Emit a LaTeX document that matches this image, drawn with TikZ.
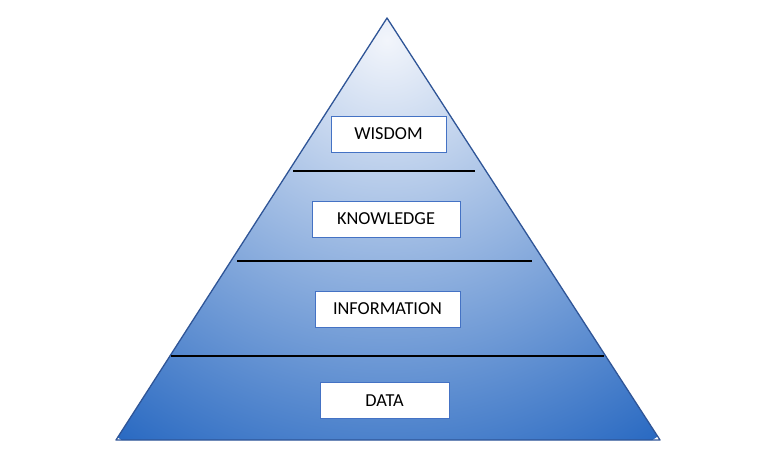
\documentclass[tikz,border=0pt]{standalone}
\usepackage{fontspec}
\setmainfont{Carlito}
\definecolor{edgeblue}{HTML}{2F5597}
\definecolor{boxblue}{HTML}{4472C4}
\definecolor{topblue}{HTML}{F2F5FB}
\definecolor{botblue}{HTML}{2A6AC2}
\tikzset{
  label box/.style={draw=boxblue, line width=1pt, fill=white, minimum height=36pt, inner sep=0pt, font=\fontsize{18.3}{20}\selectfont},
  level line/.style={draw=black, line width=1.3pt}
}
\begin{document}
\begin{tikzpicture}[x=1pt,y=-1pt]
\useasboundingbox (0,0) rectangle (775,471);
\coordinate (apex) at (387,18);
\coordinate (bl) at (116,440);
\coordinate (br) at (660,440);
\begin{scope}
  \clip (apex) -- (br) -- (bl) -- cycle;
  \shade[inner color=topblue, outer color=botblue] (387,40) circle (480);
\end{scope}
\draw[edgeblue, line width=1.3pt, line join=round] (apex) -- (br) -- (bl) -- cycle;
\coordinate (l1a) at (293,171); \coordinate (l1b) at (475,171);
\coordinate (l2a) at (237,261); \coordinate (l2b) at (532,261);
\coordinate (l3a) at (171,356); \coordinate (l3b) at (604,356);
\draw[level line] (l1a) -- (l1b);
\draw[level line] (l2a) -- (l2b);
\draw[level line] (l3a) -- (l3b);
\node[label box, minimum width=115pt] (wisdom) at (388.5,134) {WISDOM};
\node[label box, minimum width=148pt] (knowledge) at (386,219) {KNOWLEDGE};
\node[label box, minimum width=145pt] (information) at (387.5,309) {INFORMATION};
\node[label box, minimum width=129pt] (data) at (384.5,400.5) {DATA};
\end{tikzpicture}
\end{document}
